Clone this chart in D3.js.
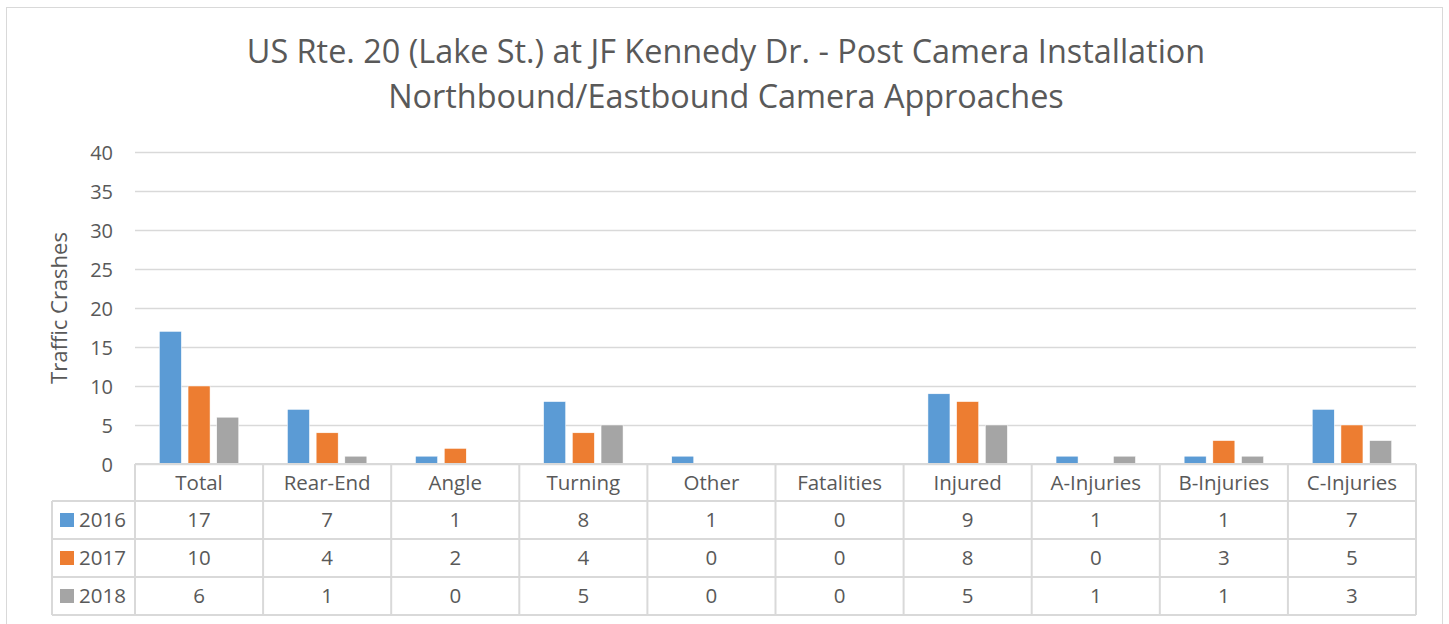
<!DOCTYPE html>
<html><head><meta charset="utf-8">
<script src="https://cdn.jsdelivr.net/npm/d3@7"></script>
<style>body{margin:0;background:#fff;} svg{display:block;font-family:"Open Sans",sans-serif;}</style>
</head><body>
<svg id="c" width="1449" height="624"></svg>
<script>
const categories = ["Total","Rear-End","Angle","Turning","Other","Fatalities","Injured","A-Injuries","B-Injuries","C-Injuries"];
const seriesNames = ["2016","2017","2018"];
const values2016 = [17,7,1,8,1,0,9,1,1,7];
const values2017 = [10,4,2,4,0,0,8,0,3,5];
const values2018 = [6,1,0,5,0,0,5,1,1,3];
const colors = ["#5B9BD5","#ED7D31","#A5A5A5"];
const yTicks = [0,5,10,15,20,25,30,35,40];
const titleLines = ["US Rte. 20 (Lake St.) at JF Kennedy Dr. - Post Camera Installation","Northbound/Eastbound Camera Approaches"];
const yTitle = "Traffic Crashes";

const series = [values2016, values2017, values2018];
const svg = d3.select("#c");
const txt = "#595959", grid = "#D9D9D9";

// outer border
svg.append("rect").attr("x",6.5).attr("y",7.5).attr("width",1436).attr("height",640)
  .attr("fill","none").attr("stroke","#D9D9D9").attr("stroke-width",1);

const L = 135, R = 1416, T = 152, B = 464;
const x = d3.scaleBand().domain(categories).range([L,R]).padding(0);
const y = d3.scaleLinear().domain([0,40]).range([B,T]);
const xs = d3.scaleBand().domain(seriesNames).range([0, 3*28.7-6.7]).paddingInner(6.7/28.7);

// title
svg.append("g").selectAll("text").data(titleLines).join("text")
  .attr("x",726).attr("y",(d,i)=>63+i*45).attr("text-anchor","middle")
  .attr("font-size",32.4).attr("fill",txt).text(d=>d);

// gridlines + y axis
const yAxis = d3.axisLeft(y).tickValues(yTicks).tickSize(-(R-L)).tickPadding(22);
const gy = svg.append("g").attr("transform",`translate(${L},0)`).call(yAxis);
gy.select(".domain").remove();
gy.selectAll(".tick line").attr("stroke",grid).attr("stroke-width",1.5);
gy.selectAll(".tick text").attr("fill",txt).attr("font-size",20).attr("font-family","Open Sans").attr("dy","0.35em");

svg.append("text").attr("transform",`translate(67,308) rotate(-90)`).attr("text-anchor","middle")
  .attr("font-size",22).attr("fill",txt).text(yTitle);

// bars
const groupW = xs.range()[1];
series.forEach((vals,si)=>{
  svg.append("g").selectAll("rect").data(vals).join("rect")
    .attr("x",(d,i)=>x(categories[i]) + (x.bandwidth()-groupW)/2 + xs(seriesNames[si]))
    .attr("y",d=>y(d)).attr("width",xs.bandwidth()).attr("height",d=>B-y(d))
    .attr("fill",colors[si]).attr("stroke","#fff").attr("stroke-width",0.5);
});

// data table
const rowTops = [464,501,539,577,615];
const LL = 52;
const tg = svg.append("g");
const line = (x1,y1,x2,y2)=>tg.append("line").attr("x1",x1).attr("y1",y1).attr("x2",x2).attr("y2",y2)
  .attr("stroke",grid).attr("stroke-width",2);
line(L,rowTops[0],R,rowTops[0]);
for(let r=1;r<rowTops.length;r++) line(LL,rowTops[r],R,rowTops[r]);
line(LL,rowTops[1],LL,rowTops[4]);
categories.forEach(c=>line(x(c),rowTops[0],x(c),rowTops[4]));
line(R,rowTops[0],R,rowTops[4]);

const fs = 20.5;
tg.selectAll("text.h").data(categories).join("text").attr("class","h")
  .attr("x",d=>x(d)+x.bandwidth()/2).attr("y",(rowTops[0]+rowTops[1])/2).attr("dy","0.35em")
  .attr("text-anchor","middle").attr("font-size",fs).attr("fill",txt).text(d=>d);

series.forEach((vals,si)=>{
  const cy = (rowTops[si+1]+rowTops[si+2])/2;
  tg.append("rect").attr("x",60).attr("y",cy-7).attr("width",14).attr("height",14).attr("fill",colors[si]);
  tg.append("text").attr("x",79).attr("y",cy).attr("dy","0.35em").attr("font-size",fs).attr("fill",txt).text(seriesNames[si]);
  tg.selectAll(null).data(vals).join("text")
    .attr("x",(d,i)=>x(categories[i])+x.bandwidth()/2).attr("y",cy).attr("dy","0.35em")
    .attr("text-anchor","middle").attr("font-size",fs).attr("fill",txt).text(d=>d);
});
</script>
</body></html>
